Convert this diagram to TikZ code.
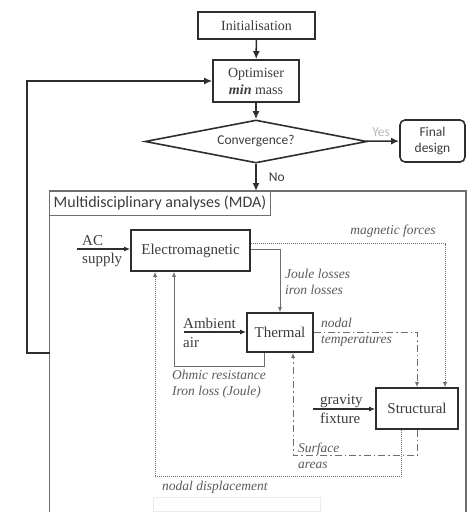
\documentclass[tikz,border=0pt]{standalone}
\usepackage{fontspec}
\setmainfont{Liberation Serif}
\newfontfamily\sansf{Carlito}
\usetikzlibrary{shapes.geometric,arrows.meta}
\definecolor{boxline}{HTML}{2E2E2E}
\definecolor{txtgray}{HTML}{3C3C3C}
\definecolor{lblgray}{HTML}{5A5A5A}
\definecolor{linegray}{HTML}{6E6E6E}
\tikzset{
  blk/.style={draw=boxline, line width=1.6pt, text=txtgray, inner sep=0pt, font=\fontsize{15}{17}\selectfont},
  lbl/.style={text=lblgray, inner sep=0pt, align=left, font=\fontsize{13.5}{16.5}\selectfont\itshape},
  inlbl/.style={text=txtgray, inner sep=0pt, align=left, font=\fontsize{15}{18.5}\selectfont},
  bigarr/.style={draw=boxline, line width=1.6pt, -{Latex[length=8pt,width=7pt]}},
  smallarr/.style={draw=linegray, line width=0.8pt, -{Latex[length=5pt,width=4pt]}},
  inarr/.style={draw=boxline, line width=1.2pt, -{Latex[length=6pt,width=5pt]}},
  dotline/.style={draw=linegray, line width=0.9pt, dash pattern=on 1pt off 1pt, -{Latex[length=5pt,width=4pt]}},
  dashdotline/.style={draw=linegray, line width=1pt, dash pattern=on 7pt off 3pt on 1.5pt off 3pt, -{Latex[length=5pt,width=4pt]}}
}
\begin{document}
\begin{tikzpicture}[x=1pt,y=-1pt]
  \useasboundingbox (0,0) rectangle (474,512);

  % optimisation loop
  \node[blk, minimum width=117pt, minimum height=27pt, font=\fontsize{14}{17}\selectfont] (init) at (256.5,25.5) {Initialisation};
  \node[blk, minimum width=86pt, minimum height=42pt, align=center, font=\fontsize{14}{17}\selectfont] (opt) at (256,81) {Optimiser\\\textbf{\textit{min}} mass};
  \node[blk, diamond, shape aspect=5.2, minimum width=222pt, minimum height=43pt, font=\sansf\fontsize{13.5}{16}\selectfont] (conv) at (256,141.5) {Convergence?};
  \node[blk, rounded corners=5pt, minimum width=65pt, minimum height=42pt, align=center, font=\sansf\fontsize{13.5}{16}\selectfont] (final) at (432.5,141) {Final\\design};

  \draw[bigarr] (init) -- (opt);
  \draw[bigarr] (opt) -- (conv);
  \draw[bigarr] (conv) -- (final) node[pos=0.45, above=4pt, text=gray!55, font=\sansf\fontsize{13.5}{16}\selectfont, inner sep=0pt] (yes) {Yes};
  \coordinate (mdatop) at (256,191);
  \draw[bigarr] (conv.south) -- (mdatop) node[pos=0.5, right=12pt, text=txtgray, font=\sansf\fontsize{13.5}{16}\selectfont, inner sep=0pt] (no) {No};

  % MDA frame
  \draw[draw=linegray, line width=1.8pt] (49.5,515) -- (49.5,191) -- (466,191) -- (466,515);
  \node[draw=linegray, line width=0.9pt, minimum width=221pt, minimum height=24pt, inner sep=0pt, text=txtgray, font=\sansf\fontsize{16}{18}\selectfont] (mda) at (160,203) {Multidisciplinary analyses (MDA)};
  \coordinate (fbk) at (49.5,353);
  \draw[bigarr] (fbk) -- (27,353) |- (opt.west); % back to optimiser

  % disciplines
  \node[blk, minimum width=119pt, minimum height=41pt] (em) at (190.5,250.5) {Electromagnetic};
  \node[blk, minimum width=66pt, minimum height=39pt] (th) at (280,332.5) {Thermal};
  \node[blk, minimum width=82pt, minimum height=41pt] (st) at (417,408.5) {Structural};

  % inputs
  \coordinate (acin) at (77,249);
  \draw[inarr] (acin) -- (acin -| em.west);
  \node[inlbl, anchor=west] (ac) at (82,251) {AC\\supply};
  \coordinate (ambin) at (184,332);
  \draw[inarr] (ambin) -- (ambin -| th.west);
  \node[inlbl, anchor=west] (amb) at (183,333) {Ambient\\air};
  \coordinate (gin) at (313,409);
  \draw[inarr] (gin) -- (gin -| st.west);
  \node[inlbl, anchor=west] (grav) at (320,409) {gravity\\fixture};

  % couplings
  \draw[dotline] ([yshift=7pt]em.east) -| ([xshift=28pt]st.north);
  \node[lbl] (magf) at (393,231) {magnetic forces};
  \draw[smallarr] ([yshift=1.5pt]em.east) -| (th.north);
  \node[lbl, anchor=west] (joule) at (285,282) {Joule losses\\iron losses};
  \draw[smallarr] ([xshift=-16pt]th.south) -- ++(0,14) -| ([xshift=-16.5pt]em.south);
  \node[lbl, anchor=west] (ohm) at (172,384) {Ohmic resistance\\Iron loss (Joule)};
  \draw[dashdotline] ([yshift=0.5pt]th.east) -| (st.north);
  \node[lbl, anchor=west] (temp) at (321,332) {nodal\\temperatures};
  \draw[dashdotline] (st.south) -- ++(0,26) -| ([xshift=13pt]th.south);
  \node[lbl, anchor=west] (surf) at (298,456) {Surface\\areas};
  \draw[dotline] ([xshift=-16pt]st.south) -- ++(0,47) -| ([xshift=-35.5pt]em.south);
  \node[lbl, anchor=west] (disp) at (162,487) {nodal displacement};

  \draw[draw=gray!15, line width=0.6pt] (153,497) rectangle (320,511); % faint field
\end{tikzpicture}
\end{document}
